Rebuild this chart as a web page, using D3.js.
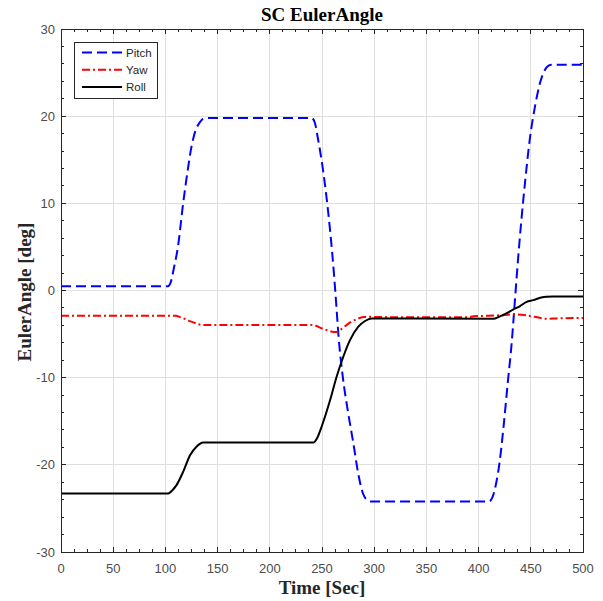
<!DOCTYPE html>
<html>
<head>
<meta charset="utf-8">
<script src="https://cdn.jsdelivr.net/npm/d3@7"></script>
<style>
  html, body { margin: 0; padding: 0; background: #ffffff; }
  svg { display: block; }
</style>
</head>
<body>
<svg id="chart" width="603" height="601"></svg>
<script>
// ---- data ----
const xTicks = [0, 50, 100, 150, 200, 250, 300, 350, 400, 450, 500];
const yTicks = [-30, -20, -10, 0, 10, 20, 30];

const pitchT = [0, 102.5, 105, 108, 112, 117, 121, 125, 129, 133, 136, 139.5,
  240, 243, 246, 251, 256, 260, 263, 266, 270, 275, 280, 285, 289, 292, 296,
  410, 413, 417, 420, 424, 428, 431.7, 435, 438, 441.3, 444.4, 449, 454, 458.8, 463, 467, 470, 500];
const pitchV = [0.5, 0.5, 0.9, 2.5, 5, 10, 13.5, 16.5, 18.4, 19.3, 19.7, 19.8,
  19.8, 19.3, 17.5, 13.8, 8.9, 4, -0.5, -5.5, -10, -14, -17.5, -21.2, -23.2, -23.9, -24.2,
  -24.2, -23.8, -22, -19.8, -15.5, -10.5, -6, -0.8, 3.9, 8.5, 12.3, 17.3, 21.1, 23.8, 25.2, 25.8, 25.9, 25.9];

const yawT = [0, 110, 114, 118.8, 122, 126.7, 131, 134.8, 240, 244, 250, 256, 261, 264, 267,
  272, 278, 284, 290, 294, 300, 390, 395, 410, 420, 433, 445, 455, 465, 475, 500];
const yawV = [-2.9, -2.9, -3.05, -3.27, -3.45, -3.65, -3.85, -3.96, -3.96, -4.05, -4.35, -4.6, -4.75, -4.75, -4.55,
  -4.1, -3.6, -3.25, -3.05, -3.0, -3.05, -3.07, -2.95, -2.9, -2.85, -2.75, -2.85, -3.05, -3.25, -3.2, -3.15];

const rollT = [0, 102.8, 106, 110.8, 117, 123.6, 130, 133, 136.3, 241.7, 245, 249.7, 257.7, 264, 270.4,
  276.8, 284.8, 291.2, 297.6, 414, 420, 427, 433, 439.7, 446, 452.4, 460, 465, 471.5, 500];
const rollV = [-23.3, -23.3, -23.0, -22.3, -20.8, -18.9, -17.9, -17.6, -17.45, -17.45, -17.0, -15.6, -12.6, -9.9, -7.6,
  -5.7, -4.15, -3.5, -3.2, -3.25, -3.0, -2.6, -2.2, -1.78, -1.3, -1.1, -0.8, -0.72, -0.7, -0.7];

const seriesNames = ["Pitch", "Yaw", "Roll"];
const title = "SC EulerAngle";
const xLabel = "Time [Sec]";
const yLabel = "EulerAngle [deg]";

// ---- layout ----
const svg = d3.select("#chart");
const L = 61, R = 583, T = 29, B = 552;
const x = d3.scaleLinear().domain([0, 500]).range([L, R]);
const y = d3.scaleLinear().domain([-30, 30]).range([B, T]);

const axisColor = "#262626";
const tickColor = "#4d4d4d";
const gridColor = "#dfdfdf";

// grid
const grid = svg.append("g");
grid.selectAll("line.gx").data(xTicks.slice(1, -1)).enter().append("line")
  .attr("x1", d => x(d)).attr("x2", d => x(d)).attr("y1", T).attr("y2", B)
  .attr("stroke", gridColor).attr("stroke-width", 1).attr("shape-rendering", "crispEdges");
grid.selectAll("line.gy").data(yTicks.slice(1, -1)).enter().append("line")
  .attr("y1", d => y(d)).attr("y2", d => y(d)).attr("x1", L).attr("x2", R)
  .attr("stroke", gridColor).attr("stroke-width", 1).attr("shape-rendering", "crispEdges");

// lines
const mk = (ts, vs) => ts.map((t, i) => [t, vs[i]]);
const line = d3.line().x(d => x(d[0])).y(d => y(d[1])).curve(d3.curveMonotoneX);
const series = [
  { name: seriesNames[0], data: mk(pitchT, pitchV), color: "#0000ff", dash: "10,5" },
  { name: seriesNames[1], data: mk(yawT, yawV), color: "#ff0000", dash: "8,3,2,3" },
  { name: seriesNames[2], data: mk(rollT, rollV), color: "#000000", dash: null }
];
const lg = svg.append("g");
series.forEach(s => {
  lg.append("path").attr("d", line(s.data)).attr("fill", "none")
    .attr("stroke", s.color).attr("stroke-width", 2)
    .attr("stroke-dasharray", s.dash);
});

// axes (box with inward ticks)
const ax = svg.append("g").attr("shape-rendering", "crispEdges");
ax.append("rect").attr("x", L).attr("y", T).attr("width", R - L).attr("height", B - T)
  .attr("fill", "none").attr("stroke", axisColor).attr("stroke-width", 1);

const xMinor = d3.range(0, 500.01, 12.5);
const yMinor = d3.range(-30, 30.01, 2);
function xTickMarks(vals, len) {
  vals.forEach(v => {
    ax.append("line").attr("x1", x(v)).attr("x2", x(v)).attr("y1", B).attr("y2", B - len).attr("stroke", axisColor);
    ax.append("line").attr("x1", x(v)).attr("x2", x(v)).attr("y1", T).attr("y2", T + len).attr("stroke", axisColor);
  });
}
function yTickMarks(vals, len) {
  vals.forEach(v => {
    ax.append("line").attr("y1", y(v)).attr("y2", y(v)).attr("x1", L).attr("x2", L + len).attr("stroke", axisColor);
    ax.append("line").attr("y1", y(v)).attr("y2", y(v)).attr("x1", R).attr("x2", R - len).attr("stroke", axisColor);
  });
}
xTickMarks(xMinor, 3);
yTickMarks(yMinor, 3);
xTickMarks(xTicks, 5);
yTickMarks(yTicks, 5);

// tick labels
const font = "'Liberation Sans', Arial, Helvetica, sans-serif";
svg.append("g").selectAll("text").data(xTicks).enter().append("text")
  .attr("x", d => x(d)).attr("y", 573).attr("text-anchor", "middle")
  .attr("font-family", font).attr("font-size", 13).attr("fill", tickColor).text(d => d);
svg.append("g").selectAll("text").data(yTicks).enter().append("text")
  .attr("x", 55).attr("y", d => y(d) + 4.5).attr("text-anchor", "end")
  .attr("font-family", font).attr("font-size", 13).attr("fill", tickColor).text(d => d);

// titles
const serif = "'Liberation Serif', 'Times New Roman', Times, serif";
svg.append("text").attr("x", 322).attr("y", 21).attr("text-anchor", "middle")
  .attr("font-family", serif).attr("font-weight", "bold").attr("font-size", 19).attr("fill", "#000")
  .text(title);
svg.append("text").attr("x", 322).attr("y", 594).attr("text-anchor", "middle")
  .attr("font-family", serif).attr("font-weight", "bold").attr("font-size", 19).attr("fill", "#262626")
  .text(xLabel);
svg.append("text").attr("transform", "translate(31,292) rotate(-90)").attr("text-anchor", "middle")
  .attr("font-family", serif).attr("font-weight", "bold").attr("font-size", 19).attr("fill", "#262626")
  .text(yLabel);

// legend
const leg = svg.append("g");
leg.append("rect").attr("x", 74.5).attr("y", 42.5).attr("width", 83).attr("height", 56)
  .attr("fill", "#fff").attr("stroke", axisColor).attr("stroke-width", 1);
series.forEach((s, i) => {
  const yy = 52.5 + i * 17.3;
  leg.append("line").attr("x1", 82).attr("x2", 122).attr("y1", yy).attr("y2", yy)
    .attr("stroke", s.color).attr("stroke-width", 2).attr("stroke-dasharray", s.dash);
  leg.append("text").attr("x", 126).attr("y", yy + 4).attr("font-family", font)
    .attr("font-size", 11.5).attr("fill", axisColor).text(s.name);
});
</script>
</body>
</html>
